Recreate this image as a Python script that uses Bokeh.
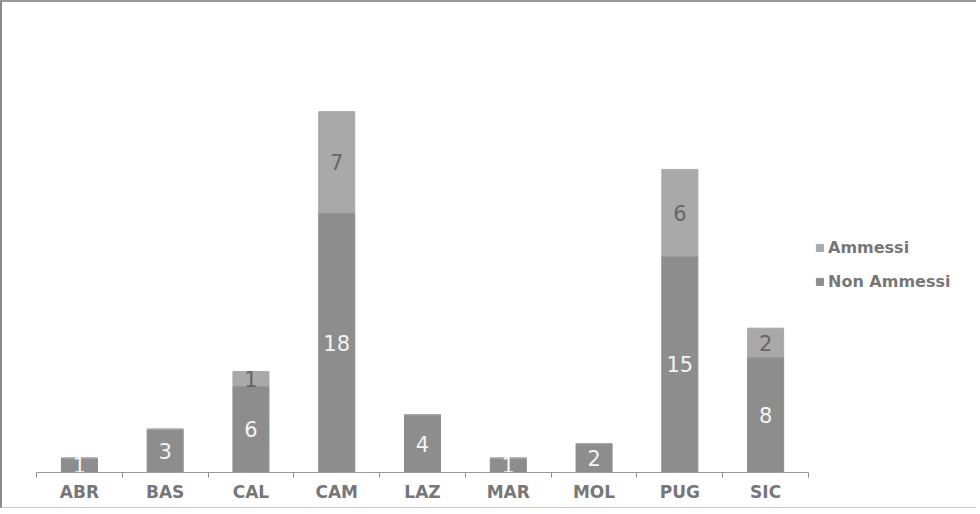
from bokeh.plotting import figure
from bokeh.models import Range1d, FixedTicker, Legend, LegendItem, ColumnDataSource
from bokeh.core.properties import value
from bokeh.embed import file_html
from bokeh.resources import INLINE

regions = ["ABR", "BAS", "CAL", "CAM", "LAZ", "MAR", "MOL", "PUG", "SIC"]
non_ammessi = [1, 3, 6, 18, 4, 1, 2, 15, 8]
ammessi = [0, 0, 1, 7, 0, 0, 0, 6, 2]

COL_NON = "#8d8d8d"
COL_AMM = "#a9a9a9"
FONT = "DejaVu Sans"

n = len(regions)
xs = [i + 0.5 for i in range(n)]
totals = [a + b for a, b in zip(non_ammessi, ammessi)]

src = ColumnDataSource(dict(x=xs, non=non_ammessi, amm=ammessi, tot=totals))

lab_non = ColumnDataSource(dict(
    x=[xs[i] for i in range(n) if non_ammessi[i] > 0],
    y=[non_ammessi[i] / 2 for i in range(n) if non_ammessi[i] > 0],
    t=[str(non_ammessi[i]) for i in range(n) if non_ammessi[i] > 0],
))
lab_amm = ColumnDataSource(dict(
    x=[xs[i] for i in range(n) if ammessi[i] > 0],
    y=[non_ammessi[i] + ammessi[i] / 2 for i in range(n) if ammessi[i] > 0],
    t=[str(ammessi[i]) for i in range(n) if ammessi[i] > 0],
))

W, H = 976, 508
LEFT, TOP, BOTTOM = 34, 37, 38
FRAME_W = W - LEFT
UNIT_PX = 772 / n           # pixels per category in the reference
x_end = FRAME_W / UNIT_PX

p = figure(width=W, height=H, x_range=Range1d(0, x_end), y_range=Range1d(0, 30),
           output_backend="svg", toolbar_location=None,
           min_border_left=LEFT, min_border_right=0, min_border_top=TOP, min_border_bottom=BOTTOM)
p.styles = {"border-left": "2px solid #8a8a8a", "border-top": "2px solid #9a9a9a",
            "border-bottom": "1px solid #c8c8c8"}
p.outline_line_color = None
p.background_fill_color = "white"
p.border_fill_color = "white"
p.xgrid.visible = False
p.ygrid.visible = False
p.yaxis.visible = False

r_non = p.vbar(x="x", width=0.42, bottom=0, top="non", source=src,
               fill_color=COL_NON, line_color=COL_NON)
r_amm = p.vbar(x="x", width=0.42, bottom="non", top="tot", source=src,
               fill_color=COL_AMM, line_color=COL_AMM)

p.text(x="x", y="y", text="t", source=lab_non, text_align="center", text_baseline="middle",
       text_font=value(FONT), text_font_size="21px", text_color="#f4f4f4")
p.text(x="x", y="y", text="t", source=lab_amm, text_align="center", text_baseline="middle",
       text_font=value(FONT), text_font_size="21px", text_color="#666666")

ax = p.xaxis[0]
ax.bounds = (0, n)
ax.ticker = FixedTicker(ticks=xs, minor_ticks=list(range(n + 1)))
ax.major_label_overrides = {x: r for x, r in zip(xs, regions)}
ax.major_tick_line_color = None
ax.major_tick_out = 0
ax.major_tick_in = 0
ax.minor_tick_line_color = "#8a8a8a"
ax.minor_tick_out = 5
ax.minor_tick_in = 0
ax.axis_line_color = "#9a9a9a"
ax.major_label_text_font = FONT
ax.major_label_text_font_style = "bold"
ax.major_label_text_font_size = "17px"
ax.major_label_text_color = "#777777"
ax.major_label_standoff = 4

legend = Legend(items=[LegendItem(label="Ammessi", renderers=[r_amm]),
                       LegendItem(label="Non Ammessi", renderers=[r_non])],
                location=(779, 181), orientation="vertical",
                border_line_color=None, background_fill_alpha=0,
                label_text_font=FONT, label_text_font_style="bold",
                label_text_font_size="16px", label_text_color="#777777",
                glyph_width=9, glyph_height=9, label_standoff=4,
                label_height=20, spacing=14, padding=0, margin=0)
p.add_layout(legend, "center")

open("out.html", "w").write(file_html(p, INLINE))
